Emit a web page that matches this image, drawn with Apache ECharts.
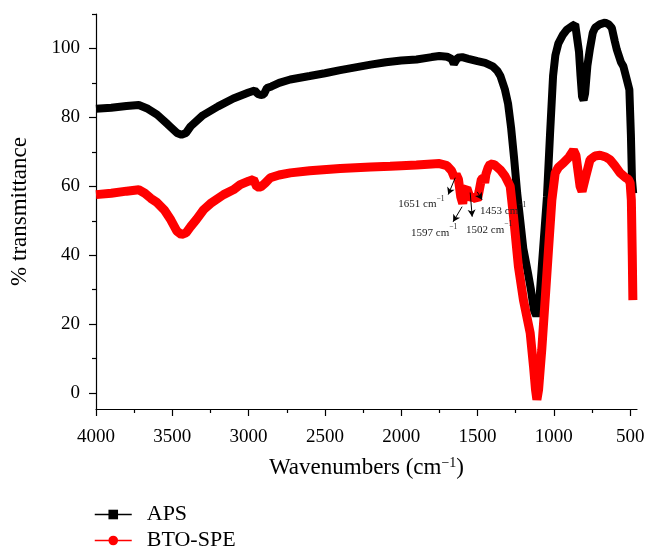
<!DOCTYPE html>
<html>
<head>
<meta charset="utf-8">
<script src="https://cdn.jsdelivr.net/npm/echarts@6/dist/echarts.min.js"></script>
<style>html,body{margin:0;padding:0;background:#fff}#c{width:658px;height:555px}</style>
</head>
<body>
<div id="c"></div>
<script>
// ---- data ----
const apsX = [4000,3900,3800,3720,3660,3600,3530,3470,3440,3410,3380,3300,3200,3100,3000,2960,2940,2920,2900,2880,2850,2800,2727,2600,2500,2400,2300,2200,2100,2000,1900,1800,1750,1700,1670,1655,1645,1630,1600,1560,1500,1450,1400,1370,1350,1320,1300,1280,1260,1240,1220,1200,1170,1150,1130,1115,1100,1080,1060,1045,1025,1005,990,970,940,915,880,860,848,835,825,815,805,795,780,763,745,730,700,664,640,620,600,587,560,544,522,505,495,488,480];
const apsY = [82.5,82.8,83.3,83.6,82.5,80.8,78,75.5,75,75.5,77.4,80.6,83.2,85.5,87.2,87.8,86.8,86.5,86.7,88.5,89,90,91,92,92.8,93.7,94.5,95.3,96,96.5,96.8,97.5,97.8,97.6,97,95.5,95,97.3,97.5,97,96.3,95.8,94.8,93.5,92,88,84,77,68,58,50,42,35,30,24,22.5,24,36,48,57,75,92,98,101.5,104,105.4,106.5,107,106.5,99,92,86,85,87,95,100,104.5,106,107,107.5,107,106,102,99.6,96,94.8,91,88,75,62,58];
const btoX = [4000,3900,3800,3720,3680,3640,3600,3550,3510,3470,3440,3410,3380,3340,3295,3250,3164,3100,3055,3000,2968,2946,2920,2890,2858,2800,2727,2600,2400,2200,2072,2000,1900,1800,1750,1700,1670,1651,1640,1625,1610,1597,1585,1570,1555,1540,1520,1502,1490,1475,1460,1453,1445,1430,1417,1390,1351,1320,1286,1264,1232,1199,1155,1133,1120,1111,1100,1079,1057,1035,1013,991,970,937,900,871,855,840,828,815,806,790,763,730,697,660,631,600,566,530,511,500,492,486,482];
const btoY = [57.6,58,58.6,59,58,56.5,55.3,53,50.3,47,46,46.5,48.3,50.5,53.2,55,57.6,59,60.5,61.5,62,59.8,59.8,61,62.5,63.3,63.9,64.5,65.2,65.6,65.8,66,66.2,66.5,66.6,66,64.5,62.5,63.5,62,57,55,59,59.5,57.5,56.5,57,56,58.5,62,62.5,61,63.5,65.5,66.5,66.3,64.8,63,60,51.2,36.7,27,17.5,7.7,1,-1.9,1,12.6,27,41.6,56,63.9,65.5,66.8,68.5,70.5,69,64,60,58.5,59,63,67.7,68.8,69,68.5,67.7,66,63.9,62.5,62,61,56,40,27];
const seriesNames = ['APS', 'BTO-SPE'];
const xMajorTicks = [4000,3500,3000,2500,2000,1500,1000,500];
const xMinorTicks = [3750,3250,2750,2250,1750,1250,750];
const yMajorTicks = [0,20,40,60,80,100];
const yMinorTicks = [10,30,50,70,90,110];
const peakLabels = ['1651', '1597', '1502', '1453'];
// arrow start/end [wavenumber, %T] and label anchors
const arrowFrom = [[1646,62.5],[1601,54.1],[1548,58.2],[1502,58.4]];
const arrowTo   = [[1692,57.6],[1660,49.7],[1535,51.2],[1470,56.1]];
const labelAt   = [[1868,55.3],[1784,47.1],[1424,48.0],[1332,53.5]];

const FONT = '"Liberation Serif", "DejaVu Serif", serif';
const toPairs = (xs, ys) => xs.map((x, i) => [x, ys[i]]);

const xBase = {type:'value', min:455, max:4000, inverse:true, gridIndex:0, position:'bottom', splitLine:{show:false}};
const yBase = {type:'value', min:-4.6, max:110, gridIndex:0, position:'left', splitLine:{show:false}};
const axisLineStyle = {show:true, onZero:false, lineStyle:{color:'#000', width:1.2}};

const chart = echarts.init(document.getElementById('c'), null, {renderer:'canvas'});
chart.setOption({
  animation:false,
  backgroundColor:'#fff',
  grid:{left:96, right:21, top:14, bottom:146, containLabel:false},
  legend:{
    data:seriesNames, orient:'vertical', left:94, top:503, padding:0, itemGap:3,
    itemWidth:37, itemHeight:12,
    lineStyle:{width:1.5},
    textStyle:{fontFamily:FONT, fontSize:22, lineHeight:23, color:'#000', padding:[0,0,0,10]}
  },
  xAxis:[
    Object.assign({}, xBase, {
      axisLine:axisLineStyle,
      axisTick:{show:true, inside:false, length:7, customValues:xMajorTicks, lineStyle:{color:'#000', width:1.2}},
      axisLabel:{customValues:xMajorTicks, formatter:v => String(v), color:'#000', fontFamily:FONT, fontSize:19, margin:19},
      name:'Wavenumbers (cm{s|−1})', nameLocation:'middle', nameGap:47,
      nameTextStyle:{fontFamily:FONT, fontSize:23, color:'#000', verticalAlign:'top',
        rich:{s:{fontFamily:FONT, fontSize:14, color:'#000', verticalAlign:'top', lineHeight:12}}}
    }),
    Object.assign({}, xBase, {
      axisLine:{show:false, onZero:false},
      axisTick:{show:true, length:4, customValues:xMinorTicks, lineStyle:{color:'#000', width:1.2}},
      axisLabel:{show:false}
    })
  ],
  yAxis:[
    Object.assign({}, yBase, {
      axisLine:axisLineStyle,
      axisTick:{show:true, length:7, customValues:yMajorTicks, lineStyle:{color:'#000', width:1.2}},
      axisLabel:{customValues:yMajorTicks, formatter:v => String(v), color:'#000', fontFamily:FONT, fontSize:19, margin:16},
      name:'% transmittance', nameLocation:'middle', nameGap:65,
      nameTextStyle:{fontFamily:FONT, fontSize:23, color:'#000'}
    }),
    Object.assign({}, yBase, {
      axisLine:{show:false, onZero:false},
      axisTick:{show:true, length:4, customValues:yMinorTicks, lineStyle:{color:'#000', width:1.2}},
      axisLabel:{show:false}
    })
  ],
  series:[
    {
      name:seriesNames[0], type:'line', xAxisIndex:0, yAxisIndex:0,
      data:toPairs(apsX, apsY), symbol:'rect', showSymbol:false, smooth:false,
      lineStyle:{color:'#000', width:8}, itemStyle:{color:'#000'}, z:2
    },
    {
      name:seriesNames[1], type:'line', xAxisIndex:0, yAxisIndex:0,
      data:toPairs(btoX, btoY), symbol:'circle', showSymbol:false, smooth:false,
      lineStyle:{color:'#ff0000', width:9}, itemStyle:{color:'#ff0000'}, z:3,
      markLine:{
        silent:true, symbol:['none','arrow'], symbolSize:[6,7],
        lineStyle:{color:'#000', width:1, type:'solid'},
        label:{show:false},
        data:arrowFrom.map((f, i) => [{coord:f}, {coord:arrowTo[i]}])
      },
      markPoint:{
        silent:true, symbol:'circle', symbolSize:0, itemStyle:{color:'rgba(0,0,0,0)'},
        data:labelAt.map((p, i) => ({
          coord:p,
          label:{show:true, position:'inside', formatter:'{a|' + peakLabels[i] + ' cm}{s|−1}',
            rich:{
              a:{fontFamily:FONT, fontSize:11, color:'#222', lineHeight:15, verticalAlign:'bottom'},
              s:{fontFamily:FONT, fontSize:7.5, color:'#222', lineHeight:8, verticalAlign:'top'}
            }}
        }))
      }
    }
  ]
});
</script>
</body>
</html>
